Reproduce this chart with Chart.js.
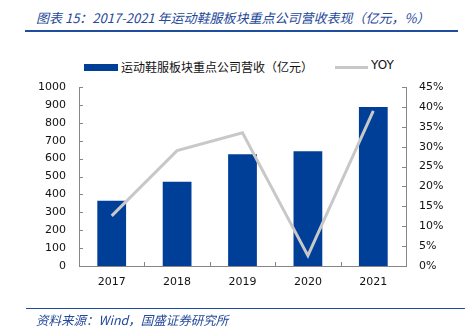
<!DOCTYPE html>
<html>
<head>
<meta charset="utf-8">
<script src="https://cdn.jsdelivr.net/npm/chart.js@4.4.1/dist/chart.umd.min.js"></script>
<style>
  html, body { margin: 0; padding: 0; background: #fff; }
  #wrap { position: relative; width: 465px; height: 335px; overflow: hidden; }
  #chart { position: absolute; left: 0; top: 0; }
  .title {
    position: absolute; left: 36px; top: 8px;
    font: italic 13px "Noto Sans CJK SC", "DejaVu Sans", sans-serif;
    color: #24489a; white-space: nowrap;
  }
  .rule { position: absolute; height: 0; border-top: 2px solid #1f4e9f; }
  .source {
    position: absolute; left: 36px; top: 310px;
    font: italic 12.5px "Noto Sans CJK SC", "DejaVu Sans", sans-serif;
    color: #24489a; white-space: nowrap;
  }
  .legend {
    position: absolute; top: 59px; left: 84px; height: 16px;
    font: 12px "Noto Sans CJK SC", "DejaVu Sans", sans-serif; color: #111;
  }
  .legend span { position: absolute; top: 0; white-space: nowrap; }
</style>
</head>
<body>
<div id="wrap">
  <div class="title">图表 15：2017-2021 年运动鞋服板块重点公司营收表现（亿元，%）</div>
  <div class="rule" style="left:25px; width:433px; top:30px;"></div>

  <div class="legend">
    <span style="left:0; top:5px; width:34px; height:7px; background:#003f98;"></span>
    <span style="left:37px; top:-1px;">运动鞋服板块重点公司营收（亿元）</span>
    <span style="left:251px; top:7px; width:33px; height:3px; background:#c8c8c8;"></span>
    <span style="left:287px; top:-1px; font-family:'DejaVu Sans', sans-serif; font-size:12px;">YOY</span>
  </div>

  <canvas id="chart" width="465" height="335"></canvas>

  <div class="rule" style="left:26px; width:439px; top:308px; border-top-width:1.5px;"></div>
  <div class="source">资料来源：Wind，国盛证券研究所</div>
</div>

<script>
// chart data
const years = ["2017", "2018", "2019", "2020", "2021"]
const revenue = [365, 471, 624, 641, 888]
const yoy = [12.6, 29.0, 33.5, 2.6, 39.0]
const leftTicks = [0, 100, 200, 300, 400, 500, 600, 700, 800, 900, 1000]
const rightTicks = [0, 5, 10, 15, 20, 25, 30, 35, 40, 45]

const axisColor = "#868686"
const labelColor = "#111"
const tickFont = { family: "DejaVu Sans", size: 11 }

// small tick marks drawn inward from the axes
const innerTicks = {
  id: "innerTicks",
  afterDraw(chart) {
    const ctx = chart.ctx
    const area = chart.chartArea
    const y = chart.scales.y
    const y1 = chart.scales.y1
    ctx.save()
    ctx.strokeStyle = axisColor
    ctx.lineWidth = 1
    ctx.beginPath()
    leftTicks.forEach((v) => {
      const py = Math.round(y.getPixelForValue(v)) + 0.5
      ctx.moveTo(area.left, py)
      ctx.lineTo(area.left + 4, py)
    })
    rightTicks.forEach((v) => {
      const py = Math.round(y1.getPixelForValue(v)) + 0.5
      ctx.moveTo(area.right, py)
      ctx.lineTo(area.right - 4, py)
    })
    const step = (area.right - area.left) / years.length
    for (let i = 1; i < years.length; i++) {
      const px = Math.round(area.left + step * i) + 0.5
      ctx.moveTo(px, area.bottom)
      ctx.lineTo(px, area.bottom - 4)
    }
    ctx.stroke()
    ctx.restore()
  },
}

new Chart(document.getElementById("chart"), {
  data: {
    labels: years,
    datasets: [
      {
        type: "line",
        label: "YOY",
        data: yoy,
        yAxisID: "y1",
        borderColor: "#c8c8c8",
        borderWidth: 3,
        pointRadius: 0,
        tension: 0,
        order: 0,
      },
      {
        type: "bar",
        label: "运动鞋服板块重点公司营收（亿元）",
        data: revenue,
        yAxisID: "y",
        backgroundColor: "#003f98",
        categoryPercentage: 1,
        barPercentage: 0.44,
        order: 1,
      },
    ],
  },
  options: {
    responsive: false,
    animation: false,
    layout: { padding: { top: 87, left: 0, right: 0, bottom: 0 } },
    plugins: {
      legend: { display: false },
      tooltip: { enabled: false },
    },
    scales: {
      x: {
        offset: true,
        grid: { display: false, drawTicks: false },
        border: { color: axisColor, width: 1 },
        ticks: { color: labelColor, font: tickFont, padding: 10 },
        afterFit: (scale) => { scale.height = 69 },
      },
      y: {
        position: "left",
        min: 0,
        max: 1000,
        grid: { display: false, drawTicks: false },
        border: { color: axisColor, width: 1 },
        ticks: {
          stepSize: 100,
          color: labelColor,
          font: tickFont,
          padding: 13,
          callback: (v) => String(v),
        },
        afterFit: (scale) => { scale.width = 79 },
      },
      y1: {
        position: "right",
        min: 0,
        max: 45,
        grid: { display: false, drawTicks: false },
        border: { color: axisColor, width: 1 },
        ticks: {
          stepSize: 5,
          color: labelColor,
          font: tickFont,
          padding: 13,
          callback: (v) => v + "%",
        },
        afterFit: (scale) => { scale.width = 59 },
      },
    },
  },
  plugins: [innerTicks],
})
</script>
</body>
</html>
